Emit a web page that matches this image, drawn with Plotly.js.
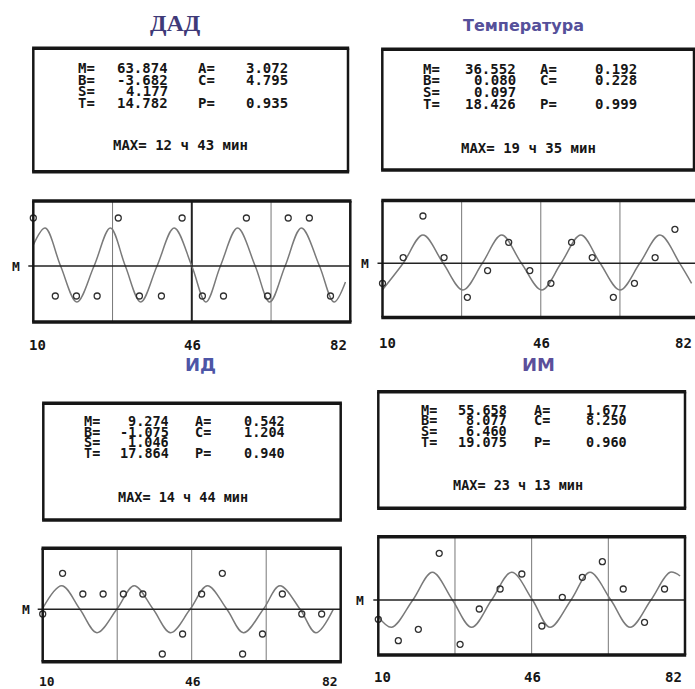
<!DOCTYPE html>
<html><head><meta charset="utf-8">
<script src="https://cdn.plot.ly/plotly-3.0.1.min.js"></script>
<style>html,body{margin:0;padding:0;background:#fff}#chart{width:695px;height:689px}</style>
</head><body><div id="chart"></div>
<script>
// ---------------- DATA ----------------
const panelTitles = ["ДАД", "Температура", "ИД", "ИМ"];
const tickVals = [10, 46, 82];
const tickLabels = ["10", "46", "82"];
const quarterLines = [28, 46, 64];
const mesorLabel = "M";

const statLabels1 = ["M=", "B=", "S=", "T="];
const statLabels2 = ["A=", "C=", "", "P="];

const dadStats1 = ["63.874", "-3.682", "4.177", "14.782"];
const dadStats2 = ["3.072", "4.795", "", "0.935"];
const dadMax = "MAX= 12 ч 43 мин";

const tempStats1 = ["36.552", "0.080", "0.097", "18.426"];
const tempStats2 = ["0.192", "0.228", "", "0.999"];
const tempMax = "MAX= 19 ч 35 мин";

const idStats1 = ["9.274", "-1.075", "1.046", "17.864"];
const idStats2 = ["0.542", "1.204", "", "0.940"];
const idMax = "MAX= 14 ч 44 мин";

const imStats1 = ["55.658", "8.077", "6.460", "19.075"];
const imStats2 = ["1.677", "8.250", "", "0.960"];
const imMax = "MAX= 23 ч 13 мин";

// fitted curves (deviation from mesor, read at extremes / crossings)
const dadCurveX = [10, 12.7, 16.2, 19.9, 23.8, 27.5, 30.9, 34.4, 38.1, 42.0, 46.0, 49.2, 52.5, 56.4, 60.4, 63.7, 67.2, 70.9, 75.0, 78.3, 80.9];
const dadCurveY = [21, 38, 0, -36, 0, 38, 0, -36, 0, 38, 0, -36, 0, 38, 0, -36, 0, 38, 0, -36, -16];
const dadObsX = [10, 15.0, 19.8, 24.5, 29.3, 34.1, 39.1, 43.8, 48.4, 53.2, 58.4, 63.2, 67.9, 72.7, 77.5];
const dadObsY = [48, -30, -30, -30, 48, -30, -30, 48, -30, -30, 48, -30, 48, 48, -30];

const tempCurveX = [10, 14.7, 19.2, 23.8, 28.3, 32.7, 37.1, 41.6, 46.2, 50.6, 55.1, 59.5, 64.0, 68.5, 73.1, 77.6, 80.3];
const tempCurveY = [-26.5, 0, 28.3, 0, -26.7, 0, 28.3, 0, -26.7, 0, 28.3, 0, -26.7, 0, 28.3, 0, -20];
const tempObsX = [10, 14.7, 19.2, 24.0, 29.3, 33.9, 38.7, 43.5, 48.3, 53.0, 57.7, 62.5, 67.3, 72.0, 76.5];
const tempObsY = [-20, 5.7, 47.3, 5.7, -34, -7.3, 21, -7.3, -20, 21, 5.7, -34, -20, 5.7, 34];

const idCurveX = [10, 14.6, 19.0, 23.1, 27.9, 32.1, 36.7, 40.9, 45.6, 49.8, 54.5, 58.5, 63.3, 67.3, 72.2, 76.0, 80.2];
const idCurveY = [1, 23.6, 0, -23.4, 0, 23.6, 0, -23.4, 0, 23.6, 0, -23.4, 0, 23.6, 0, -23.4, 0];
const idObsX = [10, 14.8, 19.7, 24.6, 29.5, 34.2, 38.9, 43.8, 48.4, 53.4, 58.3, 63.1, 67.9, 72.6, 77.4];
const idObsY = [-4.7, 36, 15.3, 15.3, 15.3, 15.3, -44.7, -24.7, 15.3, 36, -44.7, -24.7, 15.3, -4.7, -4.7];

const imCurveX = [10, 13.15, 18.1, 22.7, 27.4, 31.9, 36.6, 41.3, 46.2, 50.3, 55.25, 59.7, 64.6, 69.1, 74.0, 78.5, 80.85];
const imCurveY = [-16.7, -27.3, 0, 27.7, 0, -27.3, 0, 27.7, 0, -27.3, 0, 27.7, 0, -27.3, 0, 27.7, 24];
const imObsX = [10, 14.7, 19.4, 24.3, 29.2, 33.7, 38.6, 43.7, 48.4, 53.2, 57.9, 62.6, 67.5, 72.5, 77.2];
const imObsY = [-19.3, -40.7, -29.3, 46.7, -44.3, -9, 11, 26, -26, 2.7, 22.7, 38.3, 11, -22.3, 11];

// ---------------- LAYOUT GEOMETRY ----------------
const W = 695, H = 689;
const X = p => p / W, Y = p => 1 - p / H;

const panels = [
  {curveX: dadCurveX, curveY: dadCurveY, obsX: dadObsX, obsY: dadObsY, s1: dadStats1, s2: dadStats2, max: dadMax},
  {curveX: tempCurveX, curveY: tempCurveY, obsX: tempObsX, obsY: tempObsY, s1: tempStats1, s2: tempStats2, max: tempMax},
  {curveX: idCurveX, curveY: idCurveY, obsX: idObsX, obsY: idObsY, s1: idStats1, s2: idStats2, max: idMax},
  {curveX: imCurveX, curveY: imCurveY, obsX: imObsX, obsY: imObsY, s1: imStats1, s2: imStats2, max: imMax}
];

const plotBoxes = [
  {l: 33.3, r: 350.3, t: 201, b: 322, m: 266, xr: [10, 82], right: true, mLab: 16, tickY: 345, tickFs: 14, midBold: true},
  {l: 382.5, r: 695, t: 200.5, b: 317.5, m: 263.3, xr: [10, 81.07], right: false, mLab: 365, tickY: 342.5, tickFs: 14},
  {l: 42.7, r: 340.7, t: 548.3, b: 661.7, m: 609.3, xr: [10, 82], right: true, mLab: 26, tickY: 680.5, tickFs: 13},
  {l: 378.3, r: 685, t: 536.7, b: 655, m: 600, xr: [10, 82], right: true, mLab: 360, tickY: 676.5, tickFs: 14}
];

const textBoxes = [
  {l: 33.3, t: 48.3, r: 348, b: 171.7, lx: 77, v1: 169, l2: 197, v2: 289, mx: 111.5, rows: [68.8, 80, 91.2, 103.3], my: 145.8, fs: 14},
  {l: 382.3, t: 49.3, r: 694, b: 170, lx: 422, v1: 517, l2: 539, v2: 638, mx: 460, rows: [69.8, 81, 92.2, 104.3], my: 148, fs: 14},
  {l: 43.3, t: 403.3, r: 340.7, b: 520, lx: 82.7, v1: 170, l2: 194, v2: 286, mx: 117.3, rows: [421.5, 432, 442.5, 453.5], my: 497.3, fs: 13.5},
  {l: 378.3, t: 391.7, r: 685, b: 508.3, lx: 420, v1: 508, l2: 533.3, v2: 627.5, mx: 451.7, rows: [410, 420.5, 431, 442.5], my: 485.7, fs: 13.5}
];

const titles = [
  {x: 175, y: 23, font: {family: "Liberation Serif", size: 24, color: "#3f3a78", weight: "bold"}},
  {x: 523, y: 26, font: {family: "DejaVu Sans", size: 16, color: "#55509a", weight: "bold"}},
  {x: 200, y: 364, font: {family: "DejaVu Sans", size: 18, color: "#4d55a6", weight: "bold"}},
  {x: 538, y: 364, font: {family: "DejaVu Sans", size: 18, color: "#5b4f9a", weight: "bold"}}
];

const monoFont = "DejaVu Sans Mono";
const ink = "#161616";

const traces = [];
const shapes = [];
const annotations = [];
const layout = {
  width: W, height: H,
  margin: {l: 0, r: 0, t: 0, b: 0, pad: 0},
  paper_bgcolor: "#ffffff", plot_bgcolor: "#ffffff",
  showlegend: false,
  shapes: shapes, annotations: annotations
};

function hline(x0, x1, y, w) {
  shapes.push({type: "line", xref: "paper", yref: "paper", x0: X(x0), x1: X(x1), y0: Y(y), y1: Y(y), line: {color: ink, width: w}});
}
function vline(x, y0, y1, w) {
  shapes.push({type: "line", xref: "paper", yref: "paper", x0: X(x), x1: X(x), y0: Y(y0), y1: Y(y1), line: {color: ink, width: w}});
}

panels.forEach((p, i) => {
  const n = i === 0 ? "" : String(i + 1);
  const xa = "x" + n, ya = "y" + n;
  const pb = plotBoxes[i];

  layout["xaxis" + n] = {
    domain: [X(pb.l), X(pb.r)], range: pb.xr, anchor: ya,
    showgrid: false, zeroline: false, showline: false, showticklabels: false, ticks: "", fixedrange: true
  };
  layout["yaxis" + n] = {
    domain: [Y(pb.b), Y(pb.t)], range: [pb.m - pb.b, pb.m - pb.t], anchor: xa,
    showgrid: false, zeroline: false, showline: false, showticklabels: false, ticks: "", fixedrange: true
  };

  // fitted curve
  traces.push({
    type: "scatter", mode: "lines", x: p.curveX, y: p.curveY, xaxis: xa, yaxis: ya,
    line: {color: "#7a7a7a", width: 1.5, shape: "spline", smoothing: 1.0}, hoverinfo: "skip"
  });
  // observations
  traces.push({
    type: "scatter", mode: "markers", x: p.obsX, y: p.obsY, xaxis: xa, yaxis: ya, cliponaxis: false,
    marker: {symbol: "circle-open", size: 6, color: "#303030", line: {width: 1.3, color: "#303030"}}, hoverinfo: "skip"
  });

  // quarter grid lines
  quarterLines.forEach(q => {
    const bold = pb.midBold && q === 46;
    shapes.push({type: "line", xref: xa, yref: ya + " domain", x0: q, x1: q, y0: 0, y1: 1, layer: "below",
      line: {color: bold ? "#222" : "#777", width: bold ? 2 : 1}});
  });
  // mesor line
  shapes.push({type: "line", xref: "paper", yref: ya, x0: X(pb.l - 5), x1: X(pb.r), y0: 0, y1: 0,
    line: {color: "#222", width: 1.6}});

  // plot frame
  hline(pb.l - 1.2, pb.r + 1.2, pb.t, 3.5);
  hline(pb.l - 1.2, pb.r + 1.2, pb.b, 3.5);
  vline(pb.l, pb.t, pb.b, 2.5);
  if (pb.right) vline(pb.r, pb.t, pb.b, 2.5);

  // M label
  annotations.push({xref: "paper", yref: ya, x: X(pb.mLab), y: 0, text: mesorLabel, showarrow: false,
    xanchor: "center", yanchor: "middle", font: {family: monoFont, size: 13, color: ink, weight: "bold"}});

  // x tick labels
  tickVals.forEach((v, k) => {
    const ann = {yref: "paper", y: Y(pb.tickY), text: tickLabels[k], showarrow: false, yanchor: "middle",
      height: 12, borderpad: 0,
      font: {family: monoFont, size: pb.tickFs, color: ink, weight: "bold"}};
    if (k === 0) { ann.xref = xa; ann.x = v; ann.xanchor = "left"; ann.xshift = -5; }
    else if (k === 1) { ann.xref = xa; ann.x = v; ann.xanchor = "center"; ann.xshift = 1; }
    else {
      if (pb.right) { ann.xref = xa; ann.x = v; }
      else { ann.xref = xa + " domain"; ann.x = 1; }
      ann.xanchor = "right"; ann.xshift = -2;
    }
    annotations.push(ann);
  });

  // text box
  const tb = textBoxes[i];
  hline(tb.l - 1.2, tb.r + 1.2, tb.t, 3.5);
  hline(tb.l - 1.2, tb.r + 1.2, tb.b, 3.5);
  vline(tb.l, tb.t, tb.b, 2.5);
  vline(tb.r, tb.t, tb.b, 2.5);
  const tf = {family: monoFont, size: tb.fs, color: ink, weight: "bold"};
  const row = (x, y, text, anchor) => annotations.push({
    xref: "paper", yref: "paper", x: X(x), y: Y(y), text: text, showarrow: false,
    xanchor: anchor, yanchor: "middle", height: 10.5, borderpad: 0, font: tf
  });
  tb.rows.forEach((ry, k) => {
    row(tb.lx, ry, statLabels1[k], "left");
    row(tb.v1, ry, p.s1[k], "right");
    if (statLabels2[k]) {
      row(tb.l2, ry, statLabels2[k], "left");
      row(tb.v2, ry, p.s2[k], "right");
    }
  });
  row(tb.mx, tb.my, p.max, "left");

  // panel title
  const tt = titles[i];
  annotations.push({xref: "paper", yref: "paper", x: X(tt.x), y: Y(tt.y), text: panelTitles[i], showarrow: false,
    xanchor: "center", yanchor: "middle", font: tt.font});
});

Plotly.newPlot("chart", traces, layout, {staticPlot: true, displayModeBar: false});
</script>
</body></html>
